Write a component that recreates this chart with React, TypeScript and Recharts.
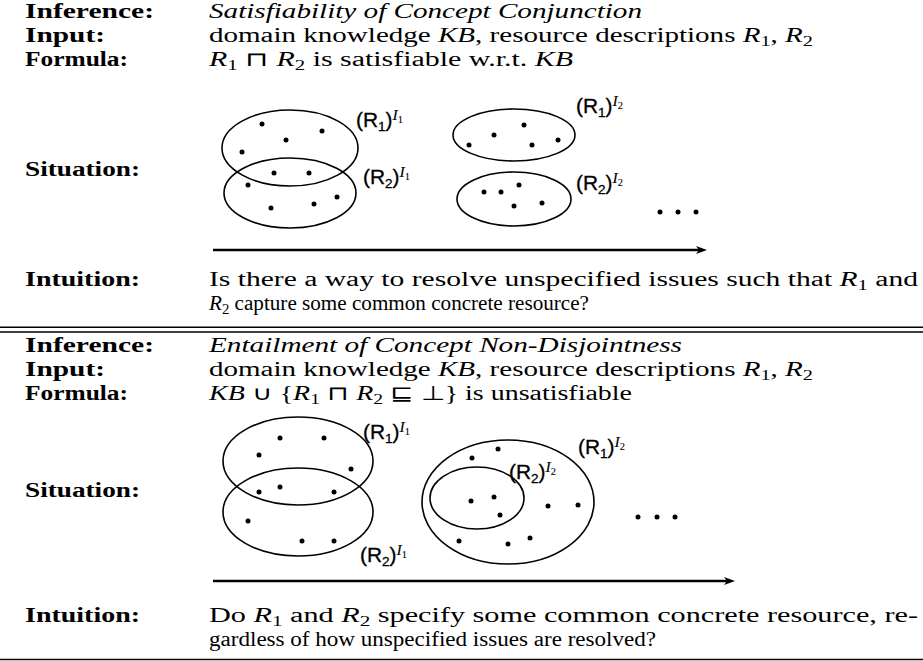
import React from 'react';
import { ScatterChart, Scatter, XAxis, YAxis, ReferenceLine } from 'recharts';

const W = 923;
const H = 661;

type Seg = { t: string; s?: 'i' | 'sub' };

// ---------- text content ----------
const rowLabels = ['Inference:', 'Input:', 'Formula:', 'Situation:', 'Intuition:'];

const topInference: Seg[] = [{ t: 'Satisfiability of Concept Conjunction', s: 'i' }];
const inputLine: Seg[] = [
  { t: 'domain knowledge ' }, { t: 'KB', s: 'i' }, { t: ', resource descriptions ' },
  { t: 'R', s: 'i' }, { t: '1', s: 'sub' }, { t: ', ' }, { t: 'R', s: 'i' }, { t: '2', s: 'sub' },
];
const topFormula: Seg[] = [
  { t: 'R', s: 'i' }, { t: '1', s: 'sub' }, { t: ' \u2293 ' }, { t: 'R', s: 'i' }, { t: '2', s: 'sub' },
  { t: ' is satisfiable w.r.t. ' }, { t: 'KB', s: 'i' },
];
const topIntuition1: Seg[] = [
  { t: 'Is there a way to resolve unspecified issues such that ' }, { t: 'R', s: 'i' }, { t: '1', s: 'sub' }, { t: ' and' },
];
const topIntuition2: Seg[] = [
  { t: 'R', s: 'i' }, { t: '2', s: 'sub' }, { t: ' capture some common concrete resource?' },
];
const botInference: Seg[] = [{ t: 'Entailment of Concept Non-Disjointness', s: 'i' }];
const botFormula: Seg[] = [
  { t: 'KB', s: 'i' }, { t: ' \u222A {' }, { t: 'R', s: 'i' }, { t: '1', s: 'sub' }, { t: ' \u2293 ' },
  { t: 'R', s: 'i' }, { t: '2', s: 'sub' }, { t: ' \u2291 \u22A5} is unsatisfiable' },
];
const botIntuition1: Seg[] = [
  { t: 'Do ' }, { t: 'R', s: 'i' }, { t: '1', s: 'sub' }, { t: ' and ' }, { t: 'R', s: 'i' }, { t: '2', s: 'sub' },
  { t: ' specify some common concrete resource, re-' },
];
const botIntuition2: Seg[] = [{ t: 'gardless of how unspecified issues are resolved?' }];

// ---------- diagram data (figure coordinates) ----------
const topEllipses = [
  { x: 290, y: 148, rx: 68, ry: 38 },
  { x: 290, y: 193, rx: 66, ry: 35 },
  { x: 514, y: 135, rx: 61, ry: 26 },
  { x: 514, y: 199, rx: 57, ry: 27 },
];
const topDots = [
  { x: 262, y: 124 }, { x: 322, y: 131 }, { x: 286, y: 140 }, { x: 242, y: 152 },
  { x: 274, y: 173 }, { x: 309, y: 173 },
  { x: 248, y: 185 }, { x: 271, y: 208 }, { x: 314, y: 204 }, { x: 337, y: 197 },
  { x: 524, y: 125 }, { x: 494, y: 135 }, { x: 469, y: 145 }, { x: 532, y: 145 }, { x: 558, y: 140 },
  { x: 484, y: 192 }, { x: 501, y: 192 }, { x: 519, y: 185 }, { x: 514, y: 206 }, { x: 542, y: 203 },
  { x: 660, y: 212 }, { x: 678, y: 212 }, { x: 696, y: 212 },
];
const topSetLabels = [
  { x: 356, y: 127, r: '1', i: '1' },
  { x: 363, y: 184, r: '2', i: '1' },
  { x: 576, y: 113, r: '1', i: '2' },
  { x: 576, y: 190, r: '2', i: '2' },
];
const botEllipses = [
  { x: 298, y: 461, rx: 75, ry: 44 },
  { x: 298, y: 512, rx: 75, ry: 44 },
  { x: 508, y: 502, rx: 86, ry: 62 },
  { x: 477, y: 498, rx: 47, ry: 31 },
];
const botDots = [
  { x: 280, y: 438 }, { x: 324, y: 438 }, { x: 259, y: 455 }, { x: 351, y: 469 },
  { x: 259, y: 492 }, { x: 280, y: 487 }, { x: 334, y: 492 },
  { x: 248, y: 521 }, { x: 302, y: 541 }, { x: 334, y: 541 },
  { x: 472, y: 458 }, { x: 498, y: 449 }, { x: 471, y: 501 }, { x: 494, y: 497 }, { x: 500, y: 515 },
  { x: 548, y: 506 }, { x: 578, y: 505 }, { x: 459, y: 541 }, { x: 508, y: 544 }, { x: 530, y: 538 },
  { x: 638, y: 517 }, { x: 657, y: 517 }, { x: 675, y: 517 },
];
const botSetLabels = [
  { x: 363, y: 439, r: '1', i: '1' },
  { x: 360, y: 562, r: '2', i: '1' },
  { x: 578, y: 454, r: '1', i: '2' },
  { x: 509, y: 479, r: '2', i: '2' },
];
const arrows = [
  { x: 213, y: 250, x2: 707 },
  { x: 213, y: 581, x2: 735 },
];

// ---------- layout ----------
const LABEL_X = 25;
const TEXT_X = 209;
const labelWidths = [129, 80, 103, 115, 115];
const rows = [
  { y: 18, label: 0, segs: topInference, w: 433 },
  { y: 42, label: 1, segs: inputLine, w: 604 },
  { y: 66, label: 2, segs: topFormula, w: 364 },
  { y: 176, label: 3, segs: null, w: 0 },
  { y: 286, label: 4, segs: topIntuition1, w: 709 },
  { y: 310, label: -1, segs: topIntuition2, w: 380 },
  { y: 352, label: 0, segs: botInference, w: 473 },
  { y: 376, label: 1, segs: inputLine, w: 604 },
  { y: 400, label: 2, segs: botFormula, w: 423 },
  { y: 497, label: 3, segs: null, w: 0 },
  { y: 622, label: 4, segs: botIntuition1, w: 709 },
  { y: 646, label: -1, segs: botIntuition2, w: 447 },
];
const rules = [327.3, 332, 659.5];

const SERIF = '"Liberation Serif", "Times New Roman", serif';
const SANS = '"Liberation Sans", Arial, sans-serif';
const FS = 20;

const labelPoints = rows.filter((r) => r.label >= 0).map((r) => ({ x: LABEL_X, y: r.y, label: r.label }));
const textPoints = rows.filter((r) => r.segs).map((r) => ({ x: TEXT_X, y: r.y, segs: r.segs, w: r.w }));
const ellipses = [...topEllipses, ...botEllipses];
const dots = [...topDots, ...botDots];
const setLabels = [...topSetLabels, ...botSetLabels];

const kx = 1; // chart pixels per figure unit (domain == size)

function renderSegs(segs: Seg[]) {
  let shifted = 0;
  return segs.map((sg, i) => {
    const isSub = sg.s === 'sub';
    const target = isSub ? 4 : 0;
    const dy = target - shifted;
    shifted = target;
    return (
      <tspan
        key={i}
        dy={dy !== 0 ? dy : undefined}
        fontStyle={sg.s === 'i' ? 'italic' : undefined}
        fontSize={isSub ? 14 : undefined}
      >
        {sg.t}
      </tspan>
    );
  });
}

const RowLabel = (p: any) => (
  <text
    x={p.cx}
    y={p.cy}
    fontFamily={SERIF}
    fontWeight="bold"
    fontSize={FS}
    fill="#000"
    textLength={labelWidths[p.payload.label]}
    lengthAdjust="spacingAndGlyphs"
  >
    {rowLabels[p.payload.label]}
  </text>
);

const RowText = (p: any) => (
  <text
    x={p.cx}
    y={p.cy}
    fontFamily={SERIF}
    fontSize={FS}
    fill="#000"
    textLength={p.payload.w}
    lengthAdjust="spacingAndGlyphs"
    style={{ whiteSpace: 'pre' }}
  >
    {renderSegs(p.payload.segs)}
  </text>
);

const EllipseShape = (p: any) => (
  <ellipse cx={p.cx} cy={p.cy} rx={p.payload.rx * kx} ry={p.payload.ry * kx} fill="none" stroke="#000" strokeWidth={1.6} />
);

const DotShape = (p: any) => <circle cx={p.cx} cy={p.cy} r={2.5} fill="#000" />;

const SetLabelShape = (p: any) => (
  <text
    x={p.cx}
    y={p.cy}
    fontFamily={SANS}
    fontSize={20}
    fill="#000"
    stroke="#000"
    strokeWidth={0.3}
    textLength={47}
    lengthAdjust="spacingAndGlyphs"
  >
    <tspan>(R</tspan>
    <tspan fontSize={13} dy={4}>{p.payload.r}</tspan>
    <tspan dy={-4}>)</tspan>
    <tspan fontFamily={SERIF} fontStyle="italic" fontSize={15} dy={-7} strokeWidth={0.1}>I</tspan>
    <tspan fontFamily={SERIF} fontSize={10} dy={3} strokeWidth={0.1}>{p.payload.i}</tspan>
  </text>
);

const ArrowShape = (p: any) => {
  const x2 = p.cx + (p.payload.x2 - p.payload.x) * kx;
  const y = p.cy;
  return (
    <g>
      <line x1={p.cx} y1={y} x2={x2 - 8} y2={y} stroke="#000" strokeWidth={2.6} />
      <polygon points={`${x2},${y} ${x2 - 11},${y - 4} ${x2 - 8},${y} ${x2 - 11},${y + 4}`} fill="#000" />
    </g>
  );
};

export default function App() {
  return (
    <div style={{ position: 'absolute', left: 0, top: 0, width: W, height: H, background: '#fff' }}>
      <ScatterChart width={W} height={H} margin={{ top: 0, right: 0, bottom: 0, left: 0 }}>
        <XAxis type="number" dataKey="x" domain={[0, W]} hide allowDataOverflow />
        <YAxis type="number" dataKey="y" domain={[0, H]} reversed hide allowDataOverflow />
        {rules.map((y, i) => (
          <ReferenceLine key={i} y={y} stroke="#000" strokeWidth={1.4} />
        ))}
        <Scatter data={ellipses} shape={EllipseShape} isAnimationActive={false} />
        <Scatter data={dots} shape={DotShape} isAnimationActive={false} />
        <Scatter data={arrows} shape={ArrowShape} isAnimationActive={false} />
        <Scatter data={setLabels} shape={SetLabelShape} isAnimationActive={false} />
        <Scatter data={labelPoints} shape={RowLabel} isAnimationActive={false} />
        <Scatter data={textPoints} shape={RowText} isAnimationActive={false} />
      </ScatterChart>
    </div>
  );
}
